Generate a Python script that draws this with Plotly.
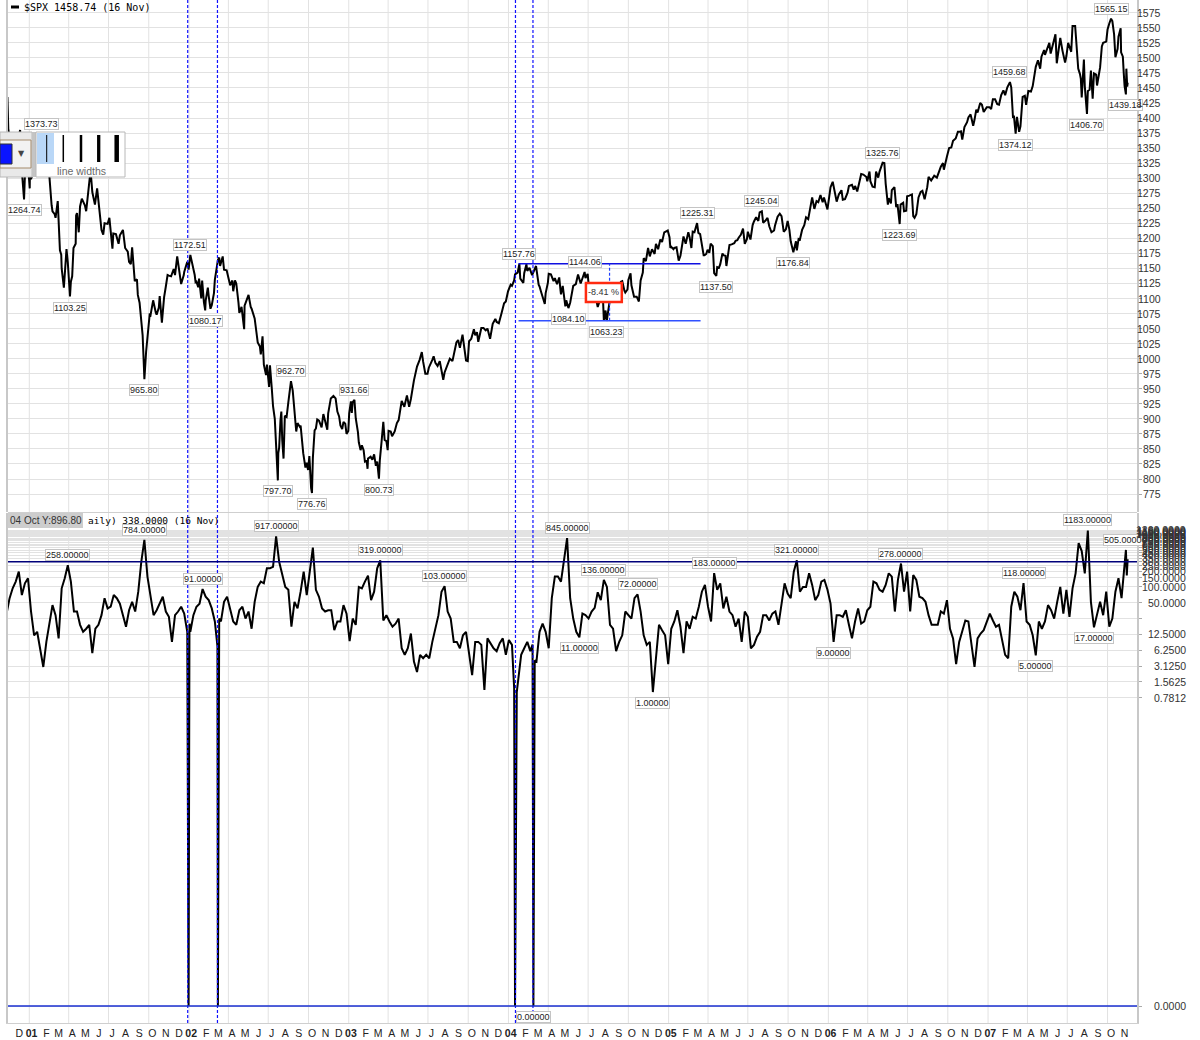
import plotly.graph_objects as go
import pandas as pd
import numpy as np

# ---------------- DATA ----------------
SPX_POINTS = [
    ("2000-11-12", 1435), ("2000-11-14", 1382), ("2000-11-17", 1367), ("2000-11-22", 1322),
    ("2000-11-27", 1348), ("2000-11-30", 1315), ("2000-12-05", 1376), ("2000-12-08", 1369),
    ("2000-12-11", 1380), ("2000-12-15", 1312), ("2000-12-20", 1264.74), ("2000-12-22", 1305),
    ("2000-12-28", 1334),
    ("2001-01-02", 1283), ("2001-01-03", 1347), ("2001-01-05", 1298), ("2001-01-10", 1313),
    ("2001-01-18", 1347), ("2001-01-24", 1364), ("2001-01-26", 1354), ("2001-01-30", 1373.73),
    ("2001-02-02", 1350), ("2001-02-07", 1340), ("2001-02-09", 1315), ("2001-02-13", 1319),
    ("2001-02-16", 1302), ("2001-02-21", 1255), ("2001-02-23", 1245), ("2001-02-28", 1240),
    ("2001-03-02", 1234), ("2001-03-07", 1262), ("2001-03-12", 1180), ("2001-03-15", 1173),
    ("2001-03-16", 1150), ("2001-03-21", 1118), ("2001-03-23", 1139), ("2001-03-27", 1182),
    ("2001-03-30", 1160), ("2001-04-04", 1103.25), ("2001-04-06", 1128), ("2001-04-09", 1137),
    ("2001-04-12", 1184), ("2001-04-17", 1191), ("2001-04-18", 1238), ("2001-04-20", 1242),
    ("2001-04-24", 1210), ("2001-04-27", 1253), ("2001-05-01", 1266), ("2001-05-08", 1255),
    ("2001-05-11", 1245), ("2001-05-16", 1285), ("2001-05-21", 1313), ("2001-05-25", 1277),
    ("2001-05-31", 1256), ("2001-06-05", 1283), ("2001-06-08", 1265), ("2001-06-15", 1214),
    ("2001-06-19", 1206), ("2001-06-22", 1225), ("2001-06-29", 1224), ("2001-07-03", 1234),
    ("2001-07-10", 1183), ("2001-07-12", 1208), ("2001-07-18", 1207), ("2001-07-24", 1191),
    ("2001-07-27", 1205), ("2001-07-31", 1211), ("2001-08-03", 1214), ("2001-08-08", 1184),
    ("2001-08-14", 1178), ("2001-08-17", 1161), ("2001-08-21", 1157), ("2001-08-24", 1185),
    ("2001-08-30", 1129), ("2001-09-04", 1132), ("2001-09-06", 1106), ("2001-09-10", 1093),
    ("2001-09-17", 1039), ("2001-09-20", 985), ("2001-09-21", 965.80), ("2001-09-25", 1012),
    ("2001-09-28", 1041), ("2001-10-03", 1073), ("2001-10-05", 1072), ("2001-10-11", 1097),
    ("2001-10-17", 1077), ("2001-10-19", 1073), ("2001-10-24", 1085), ("2001-10-26", 1104),
    ("2001-10-31", 1060), ("2001-11-05", 1102), ("2001-11-09", 1120), ("2001-11-13", 1139),
    ("2001-11-16", 1138), ("2001-11-21", 1137), ("2001-11-27", 1149), ("2001-11-30", 1139),
    ("2001-12-05", 1170), ("2001-12-07", 1158), ("2001-12-10", 1139), ("2001-12-14", 1124),
    ("2001-12-20", 1139), ("2001-12-21", 1144), ("2001-12-28", 1161), ("2001-12-31", 1148),
    ("2002-01-04", 1172.51), ("2002-01-08", 1160), ("2002-01-10", 1156), ("2002-01-14", 1139),
    ("2002-01-16", 1127), ("2002-01-18", 1128), ("2002-01-22", 1119), ("2002-01-24", 1133),
    ("2002-01-29", 1100), ("2002-01-31", 1130), ("2002-02-04", 1094), ("2002-02-07", 1080.17),
    ("2002-02-08", 1096), ("2002-02-13", 1118), ("2002-02-15", 1104), ("2002-02-19", 1083),
    ("2002-02-22", 1089), ("2002-02-27", 1109), ("2002-03-01", 1131), ("2002-03-05", 1147),
    ("2002-03-08", 1164), ("2002-03-11", 1168), ("2002-03-13", 1154), ("2002-03-19", 1170),
    ("2002-03-22", 1148), ("2002-03-28", 1147), ("2002-04-02", 1129), ("2002-04-05", 1122),
    ("2002-04-10", 1130), ("2002-04-12", 1112), ("2002-04-16", 1130), ("2002-04-19", 1125),
    ("2002-04-24", 1093), ("2002-04-26", 1076), ("2002-05-01", 1086), ("2002-05-07", 1049),
    ("2002-05-08", 1088), ("2002-05-14", 1098), ("2002-05-17", 1106), ("2002-05-22", 1086),
    ("2002-05-24", 1083), ("2002-05-31", 1067), ("2002-06-04", 1040), ("2002-06-07", 1027),
    ("2002-06-12", 1020), ("2002-06-14", 1007), ("2002-06-18", 1037), ("2002-06-21", 990),
    ("2002-06-26", 973), ("2002-06-28", 990), ("2002-07-03", 953), ("2002-07-05", 989),
    ("2002-07-09", 952), ("2002-07-12", 921), ("2002-07-16", 900), ("2002-07-19", 847),
    ("2002-07-23", 797.70), ("2002-07-24", 843), ("2002-07-26", 852), ("2002-07-29", 898),
    ("2002-07-31", 912), ("2002-08-02", 865), ("2002-08-05", 834), ("2002-08-08", 905),
    ("2002-08-12", 903), ("2002-08-16", 928), ("2002-08-22", 962.70), ("2002-08-26", 947),
    ("2002-08-29", 917), ("2002-09-03", 879), ("2002-09-06", 893), ("2002-09-11", 887),
    ("2002-09-13", 889), ("2002-09-19", 843), ("2002-09-24", 819), ("2002-09-27", 827),
    ("2002-09-30", 815), ("2002-10-03", 838), ("2002-10-07", 785), ("2002-10-09", 776.76),
    ("2002-10-11", 835), ("2002-10-15", 881), ("2002-10-18", 884), ("2002-10-21", 899),
    ("2002-10-25", 897), ("2002-10-28", 890), ("2002-10-31", 886), ("2002-11-04", 908),
    ("2002-11-08", 894), ("2002-11-13", 882), ("2002-11-15", 909), ("2002-11-21", 934),
    ("2002-11-27", 938), ("2002-12-02", 934), ("2002-12-06", 912), ("2002-12-10", 904),
    ("2002-12-13", 889), ("2002-12-17", 883), ("2002-12-20", 895), ("2002-12-24", 892),
    ("2002-12-27", 875), ("2002-12-31", 880),
    ("2003-01-02", 909), ("2003-01-06", 929), ("2003-01-08", 910), ("2003-01-10", 928),
    ("2003-01-14", 931.66), ("2003-01-17", 901), ("2003-01-22", 878), ("2003-01-24", 861),
    ("2003-01-28", 848), ("2003-01-31", 856), ("2003-02-04", 848), ("2003-02-07", 829),
    ("2003-02-11", 830), ("2003-02-13", 817), ("2003-02-14", 834), ("2003-02-20", 837),
    ("2003-02-24", 832), ("2003-02-28", 841), ("2003-03-04", 822), ("2003-03-07", 829),
    ("2003-03-11", 800.73), ("2003-03-13", 831), ("2003-03-17", 862), ("2003-03-21", 895),
    ("2003-03-24", 865), ("2003-03-28", 863), ("2003-03-31", 848), ("2003-04-02", 880),
    ("2003-04-07", 879), ("2003-04-10", 871), ("2003-04-16", 879), ("2003-04-21", 893),
    ("2003-04-25", 898), ("2003-04-30", 917), ("2003-05-02", 930), ("2003-05-08", 920),
    ("2003-05-14", 939), ("2003-05-19", 920), ("2003-05-23", 933), ("2003-05-30", 964),
    ("2003-06-06", 987), ("2003-06-12", 998), ("2003-06-17", 1011), ("2003-06-20", 995),
    ("2003-06-25", 975), ("2003-06-30", 975), ("2003-07-03", 985), ("2003-07-11", 998),
    ("2003-07-14", 1004), ("2003-07-18", 993), ("2003-07-23", 988), ("2003-07-28", 996),
    ("2003-08-01", 980), ("2003-08-05", 965), ("2003-08-08", 977), ("2003-08-14", 990),
    ("2003-08-20", 1000), ("2003-08-26", 996), ("2003-08-29", 1008), ("2003-09-04", 1027),
    ("2003-09-08", 1031), ("2003-09-12", 1018), ("2003-09-18", 1040), ("2003-09-22", 1022),
    ("2003-09-26", 997), ("2003-09-30", 996), ("2003-10-03", 1029), ("2003-10-08", 1033),
    ("2003-10-14", 1049), ("2003-10-17", 1039), ("2003-10-21", 1044), ("2003-10-24", 1028),
    ("2003-10-31", 1051), ("2003-11-05", 1051), ("2003-11-10", 1047), ("2003-11-14", 1050),
    ("2003-11-17", 1043), ("2003-11-20", 1033), ("2003-11-26", 1058), ("2003-12-02", 1066),
    ("2003-12-05", 1061), ("2003-12-10", 1059), ("2003-12-16", 1075), ("2003-12-22", 1092),
    ("2003-12-26", 1095), ("2003-12-31", 1112),
    ("2004-01-06", 1123), ("2004-01-09", 1121), ("2004-01-14", 1130), ("2004-01-16", 1140),
    ("2004-01-22", 1143), ("2004-01-26", 1157.76), ("2004-01-28", 1133), ("2004-01-30", 1131),
    ("2004-02-04", 1126), ("2004-02-06", 1142), ("2004-02-11", 1157), ("2004-02-13", 1146),
    ("2004-02-18", 1151), ("2004-02-24", 1139), ("2004-02-27", 1145), ("2004-03-04", 1154),
    ("2004-03-10", 1123), ("2004-03-12", 1120), ("2004-03-16", 1110), ("2004-03-22", 1095),
    ("2004-03-24", 1091), ("2004-03-26", 1109), ("2004-03-31", 1126), ("2004-04-02", 1141),
    ("2004-04-07", 1140), ("2004-04-13", 1129), ("2004-04-16", 1134), ("2004-04-21", 1124),
    ("2004-04-26", 1135), ("2004-04-29", 1113), ("2004-04-30", 1107), ("2004-05-04", 1121),
    ("2004-05-07", 1098), ("2004-05-10", 1087), ("2004-05-12", 1097), ("2004-05-17", 1084.10),
    ("2004-05-21", 1093), ("2004-05-25", 1114), ("2004-05-28", 1121), ("2004-06-03", 1124),
    ("2004-06-08", 1140), ("2004-06-14", 1125), ("2004-06-18", 1135), ("2004-06-23", 1144.06),
    ("2004-06-25", 1134), ("2004-06-30", 1141), ("2004-07-02", 1125), ("2004-07-08", 1112),
    ("2004-07-13", 1115), ("2004-07-16", 1101), ("2004-07-21", 1093), ("2004-07-23", 1086),
    ("2004-07-27", 1095), ("2004-07-30", 1102), ("2004-08-04", 1099), ("2004-08-06", 1064),
    ("2004-08-10", 1080), ("2004-08-12", 1063.23), ("2004-08-13", 1064), ("2004-08-16", 1080),
    ("2004-08-18", 1096), ("2004-08-20", 1099), ("2004-08-25", 1104), ("2004-08-31", 1104),
    ("2004-09-03", 1113), ("2004-09-09", 1118), ("2004-09-14", 1128), ("2004-09-17", 1129),
    ("2004-09-22", 1113), ("2004-09-24", 1110), ("2004-09-29", 1115), ("2004-10-01", 1131),
    ("2004-10-06", 1142), ("2004-10-08", 1122), ("2004-10-14", 1103), ("2004-10-20", 1103),
    ("2004-10-25", 1095), ("2004-10-29", 1130), ("2004-11-03", 1143), ("2004-11-05", 1167),
    ("2004-11-10", 1162), ("2004-11-15", 1184), ("2004-11-19", 1170), ("2004-11-24", 1182),
    ("2004-11-30", 1174), ("2004-12-03", 1191), ("2004-12-08", 1182), ("2004-12-13", 1198),
    ("2004-12-17", 1194), ("2004-12-22", 1210), ("2004-12-30", 1213),
    ("2005-01-03", 1202), ("2005-01-05", 1184), ("2005-01-07", 1186), ("2005-01-12", 1182),
    ("2005-01-14", 1184), ("2005-01-19", 1185), ("2005-01-24", 1163), ("2005-01-28", 1171),
    ("2005-02-01", 1190), ("2005-02-04", 1203), ("2005-02-09", 1191), ("2005-02-15", 1210),
    ("2005-02-18", 1202), ("2005-02-22", 1184), ("2005-02-25", 1211), ("2005-03-01", 1210),
    ("2005-03-07", 1225.31), ("2005-03-10", 1209), ("2005-03-14", 1207), ("2005-03-18", 1190),
    ("2005-03-22", 1172), ("2005-03-24", 1172), ("2005-03-28", 1174), ("2005-03-31", 1181),
    ("2005-04-04", 1176), ("2005-04-07", 1191), ("2005-04-12", 1187), ("2005-04-15", 1142),
    ("2005-04-20", 1137.50), ("2005-04-22", 1152), ("2005-04-26", 1151), ("2005-04-29", 1157),
    ("2005-05-04", 1175), ("2005-05-06", 1172), ("2005-05-11", 1171), ("2005-05-13", 1154),
    ("2005-05-18", 1185), ("2005-05-20", 1189), ("2005-05-25", 1190), ("2005-05-31", 1192),
    ("2005-06-03", 1196), ("2005-06-07", 1197), ("2005-06-10", 1201), ("2005-06-15", 1206),
    ("2005-06-20", 1216), ("2005-06-24", 1191), ("2005-06-29", 1199), ("2005-07-01", 1211),
    ("2005-07-07", 1198), ("2005-07-12", 1222), ("2005-07-15", 1228), ("2005-07-20", 1235),
    ("2005-07-25", 1229), ("2005-07-28", 1243), ("2005-08-02", 1245.04), ("2005-08-05", 1226),
    ("2005-08-10", 1229), ("2005-08-15", 1234), ("2005-08-19", 1220), ("2005-08-24", 1210),
    ("2005-08-30", 1213), ("2005-09-01", 1221), ("2005-09-07", 1236), ("2005-09-12", 1241),
    ("2005-09-16", 1237), ("2005-09-21", 1211), ("2005-09-26", 1215), ("2005-09-30", 1229),
    ("2005-10-04", 1214), ("2005-10-07", 1195), ("2005-10-13", 1176.84), ("2005-10-17", 1190),
    ("2005-10-19", 1195), ("2005-10-21", 1180), ("2005-10-25", 1199), ("2005-10-28", 1198),
    ("2005-11-02", 1214), ("2005-11-07", 1222), ("2005-11-11", 1235), ("2005-11-16", 1232),
    ("2005-11-21", 1254), ("2005-11-25", 1268), ("2005-11-30", 1249), ("2005-12-05", 1262),
    ("2005-12-09", 1260), ("2005-12-14", 1272), ("2005-12-19", 1260), ("2005-12-22", 1268),
    ("2005-12-30", 1248),
    ("2006-01-03", 1268), ("2006-01-06", 1285), ("2006-01-11", 1294), ("2006-01-13", 1286),
    ("2006-01-20", 1261), ("2006-01-25", 1273), ("2006-01-31", 1280), ("2006-02-03", 1264),
    ("2006-02-08", 1265), ("2006-02-14", 1276), ("2006-02-17", 1287), ("2006-02-24", 1289),
    ("2006-02-28", 1281), ("2006-03-03", 1287), ("2006-03-08", 1278), ("2006-03-14", 1297),
    ("2006-03-17", 1307), ("2006-03-22", 1306), ("2006-03-29", 1302), ("2006-03-31", 1295),
    ("2006-04-05", 1311), ("2006-04-07", 1295), ("2006-04-12", 1286), ("2006-04-17", 1285),
    ("2006-04-20", 1311), ("2006-04-25", 1301), ("2006-04-28", 1311), ("2006-05-05", 1325.76),
    ("2006-05-09", 1325), ("2006-05-12", 1291), ("2006-05-17", 1256), ("2006-05-19", 1267),
    ("2006-05-24", 1258), ("2006-05-26", 1280), ("2006-06-01", 1285), ("2006-06-05", 1252),
    ("2006-06-08", 1257), ("2006-06-13", 1223.69), ("2006-06-15", 1256), ("2006-06-21", 1259),
    ("2006-06-23", 1245), ("2006-06-28", 1246), ("2006-06-30", 1270), ("2006-07-05", 1271),
    ("2006-07-11", 1273), ("2006-07-14", 1237), ("2006-07-17", 1234), ("2006-07-21", 1240),
    ("2006-07-26", 1268), ("2006-07-31", 1277), ("2006-08-04", 1279), ("2006-08-09", 1265),
    ("2006-08-15", 1285), ("2006-08-18", 1302), ("2006-08-24", 1296), ("2006-08-31", 1304),
    ("2006-09-06", 1301), ("2006-09-12", 1313), ("2006-09-15", 1319), ("2006-09-20", 1325),
    ("2006-09-22", 1314), ("2006-09-29", 1336), ("2006-10-04", 1350), ("2006-10-09", 1351),
    ("2006-10-13", 1362), ("2006-10-19", 1366), ("2006-10-24", 1377), ("2006-10-27", 1377),
    ("2006-10-31", 1378), ("2006-11-03", 1364), ("2006-11-08", 1385), ("2006-11-14", 1393),
    ("2006-11-17", 1401), ("2006-11-22", 1406), ("2006-11-28", 1387), ("2006-12-01", 1397),
    ("2006-12-05", 1414), ("2006-12-08", 1409), ("2006-12-14", 1425), ("2006-12-18", 1422),
    ("2006-12-22", 1410), ("2006-12-29", 1418),
    ("2007-01-04", 1418), ("2007-01-08", 1415), ("2007-01-12", 1431), ("2007-01-17", 1431),
    ("2007-01-22", 1423), ("2007-01-26", 1422), ("2007-01-31", 1438), ("2007-02-05", 1446),
    ("2007-02-09", 1438), ("2007-02-14", 1451), ("2007-02-20", 1459.68), ("2007-02-23", 1451),
    ("2007-02-27", 1400), ("2007-03-01", 1404), ("2007-03-05", 1374.12), ("2007-03-08", 1402),
    ("2007-03-13", 1377), ("2007-03-16", 1386), ("2007-03-21", 1435), ("2007-03-26", 1437),
    ("2007-03-29", 1422), ("2007-04-03", 1445), ("2007-04-09", 1444), ("2007-04-13", 1453),
    ("2007-04-18", 1472), ("2007-04-20", 1485), ("2007-04-25", 1496), ("2007-04-30", 1482),
    ("2007-05-03", 1502), ("2007-05-09", 1513), ("2007-05-11", 1505), ("2007-05-16", 1514),
    ("2007-05-21", 1525), ("2007-05-24", 1507), ("2007-05-31", 1531), ("2007-06-04", 1539),
    ("2007-06-07", 1491), ("2007-06-11", 1509), ("2007-06-15", 1533), ("2007-06-20", 1512),
    ("2007-06-26", 1492), ("2007-06-29", 1503), ("2007-07-03", 1525), ("2007-07-10", 1510),
    ("2007-07-13", 1553), ("2007-07-19", 1553), ("2007-07-24", 1511), ("2007-07-26", 1482),
    ("2007-07-30", 1473), ("2007-08-01", 1465), ("2007-08-03", 1434), ("2007-08-08", 1497),
    ("2007-08-10", 1453), ("2007-08-15", 1406.70), ("2007-08-17", 1445), ("2007-08-21", 1447),
    ("2007-08-24", 1479), ("2007-08-28", 1432), ("2007-08-31", 1474), ("2007-09-05", 1472),
    ("2007-09-07", 1454), ("2007-09-11", 1471), ("2007-09-14", 1484), ("2007-09-18", 1519),
    ("2007-09-21", 1525), ("2007-09-28", 1527), ("2007-10-01", 1547), ("2007-10-05", 1557),
    ("2007-10-09", 1565.15), ("2007-10-12", 1561), ("2007-10-16", 1539), ("2007-10-19", 1501),
    ("2007-10-24", 1515), ("2007-10-26", 1535), ("2007-10-31", 1549), ("2007-11-01", 1509),
    ("2007-11-05", 1502), ("2007-11-07", 1475), ("2007-11-09", 1453), ("2007-11-12", 1439.18),
    ("2007-11-13", 1482), ("2007-11-15", 1452), ("2007-11-16", 1458.74),
]

# NYSE new highs, weekly readings (Fridays) starting 2000-11-10
NH_START = "2000-11-10"
NH_WEEKLY = [
    31, 61, 94, 126, 195, 70, 117, 146, 34, 12,
    14, 6.8, 3.0, 9, 19, 45, 29, 10.5, 94, 146,
    258, 126, 34, 34, 19, 14, 16, 19, 5.5, 16,
    19, 29, 61, 39, 42, 70, 61, 48, 29, 17.5,
    36, 52, 34, 81, 301, 784, 157, 70, 29, 36,
    48, 65, 34, 27, 9, 29, 34, 42, 31, 14,
    14, 29, 42, 48, 91, 65, 56, 39, 22, 0,
    22, 52, 65, 36, 22, 19, 36, 42, 25, 34,
    16, 52, 100, 126, 117, 226, 226, 240, 917, 300,
    180, 100, 88, 17.5, 52, 39, 81, 195, 70, 181,
    560, 88, 65, 39, 34, 36, 36, 15, 22, 22,
    45, 31, 9.3, 25, 19, 100, 94, 126, 164, 56,
    81, 226, 319, 23, 29, 22, 17.5, 20, 25, 6.8,
    5.1, 6.8, 13, 3.8, 2.4, 5.1, 4.4, 5.1, 4.4, 9,
    17.5, 29, 81, 103, 34, 25, 9, 9, 6.8, 12,
    14, 6, 2.1, 9, 9, 7.9, 1.1, 10.5, 8.5, 6.8,
    6, 8.5, 10.5, 5.1, 9.8, 7.9, 0, 1.6, 5.1, 6.8,
    9, 6, 0, 3.8, 14, 20, 14, 6.8, 61, 157,
    157, 126, 301, 845, 61, 25, 14, 11, 31, 29,
    25, 34, 40, 79, 56, 136, 100, 19, 16, 6,
    9, 12, 34, 29, 25, 61, 72, 34, 12, 7.9,
    9, 1, 5.1, 19, 15, 12, 3.4, 16, 22, 36,
    17.5, 5.5, 22, 16, 27, 25, 42, 81, 109, 42,
    22, 183, 88, 117, 39, 65, 34, 29, 17.5, 25,
    9, 34, 27, 6.8, 7.9, 11.3, 14, 29, 29, 23,
    31, 34, 19, 45, 117, 75, 61, 195, 321, 81,
    100, 100, 181, 109, 56, 70, 126, 136, 88, 48,
    9, 29, 29, 27, 36, 19, 10.5, 22, 39, 20,
    22, 36, 42, 126, 117, 88, 81, 109, 181, 157,
    34, 136, 278, 81, 195, 34, 168, 136, 65, 61,
    52, 29, 19, 19, 19, 34, 31, 56, 16, 10.5,
    3.4, 9, 15, 23, 22, 9, 3.0, 10.5, 13, 15,
    22, 31, 23, 17.5, 19, 10.5, 5.1, 4.4, 42, 81,
    65, 36, 118, 22, 19, 12, 5, 22, 16, 22,
    45, 36, 25, 52, 100, 31, 88, 27, 94, 181,
    680, 480, 181, 1183, 52, 17, 29, 52, 29, 81,
    17.5, 25, 81, 146, 61, 301, 338,
]
NH_EXTRA_DATES = ["2001-12-31", "2002-01-02", "2002-03-07", "2002-03-11",
                  "2004-01-14", "2004-01-20", "2004-02-25", "2004-03-01",
                  "2007-11-12", "2007-11-14"]
NH_EXTRA_VALUES = [0, 20, 7.4, 25, 1.2, 1.0, 8, 4, 505, 165]
ZERO_FLOOR = 1.07e-6   # where the chart draws a zero reading on its log scale
NH_REF_LINE = 300

PRICE_TICKS = list(range(775, 1576, 25))
NH_TICKS = [1200, 1150, 1100, 1050, 1000, 950, 900, 850, 800, 750, 700, 650, 600, 550,
            500, 450, 400, 350, 300, 250, 200, 150, 100, 50, 12.5, 6.25, 3.125, 1.5625, 0.78125]
NH_GRID_ONLY = [25]

PRICE_LABELS = [  # text, date, value, above?
    ("1373.73", "2001-01-30", 1373.73, True), ("1264.74", "2000-12-20", 1264.74, False),
    ("1103.25", "2001-04-04", 1103.25, False), ("965.80", "2001-09-21", 965.80, False),
    ("1172.51", "2002-01-04", 1172.51, True), ("1080.17", "2002-02-07", 1080.17, False),
    ("962.70", "2002-08-22", 962.70, True), ("797.70", "2002-07-23", 797.70, False),
    ("776.76", "2002-10-09", 776.76, False), ("931.66", "2003-01-14", 931.66, True),
    ("800.73", "2003-03-11", 800.73, False), ("1157.76", "2004-01-26", 1157.76, True),
    ("1144.06", "2004-06-23", 1144.06, True), ("1084.10", "2004-05-17", 1084.10, False),
    ("1063.23", "2004-08-12", 1063.23, False), ("1225.31", "2005-03-07", 1225.31, True),
    ("1137.50", "2005-04-20", 1137.50, False), ("1245.04", "2005-08-02", 1245.04, True),
    ("1176.84", "2005-10-13", 1176.84, False), ("1325.76", "2006-05-05", 1325.76, True),
    ("1223.69", "2006-06-13", 1223.69, False), ("1459.68", "2007-02-20", 1459.68, True),
    ("1374.12", "2007-03-05", 1374.12, False), ("1406.70", "2007-08-15", 1406.70, False),
    ("1565.15", "2007-10-09", 1565.15, True), ("1439.18", "2007-11-12", 1439.18, False),
]
NH_LABELS = [
    ("258.00000", "2001-03-30", 258, True), ("784.00000", "2001-09-21", 784, True),
    ("91.00000", "2002-02-01", 91, True), ("917.00000", "2002-07-19", 917, True),
    ("319.00000", "2003-03-14", 319, True), ("103.00000", "2003-08-08", 103, True),
    ("845.00000", "2004-05-14", 845, True), ("11.00000", "2004-06-11", 11, False),
    ("136.00000", "2004-08-06", 136, True), ("72.00000", "2004-10-22", 72, True),
    ("1.00000", "2004-11-26", 1, False), ("183.00000", "2005-04-15", 183, True),
    ("321.00000", "2005-10-21", 321, True), ("9.00000", "2006-01-13", 9, False),
    ("278.00000", "2006-06-16", 278, True), ("118.00000", "2007-03-23", 118, True),
    ("5.00000", "2007-04-20", 5, False), ("1183.00000", "2007-08-17", 1183, True),
    ("505.00000", "2007-11-12", 505, True), ("17.00000", "2007-08-31", 17, False),
    ("0.00000", "2004-02-27", ZERO_FLOOR, False),
]
MARK_DATES = ["2001-12-29", "2002-03-07", "2004-01-17", "2004-02-26"]
QUARTER_STARTS = [f"{y}-{m:02d}-01" for y in range(2001, 2008) for m in (1, 4, 7, 10)]
MONTH_LETTERS = ["J", "F", "M", "A", "M", "J", "J", "A", "S", "O", "N", "D"]

# ---------------- GEOMETRY ----------------
W, H = 1200, 1040
ML, MR, MT, MB = 8, 63, 0, 17
PW = W - ML - MR
PH = H - MT - MB


def px(xp):
    return (xp - ML) / PW


def py(yp):
    return (MT + PH - yp) / PH


X_RANGE = ["2000-11-13 08:00", "2007-12-07 08:00"]
PRICE_RANGE = [745.2, 1596.1]
NH_RANGE = [np.log10(5.09e-7), np.log10(2542)]

FONT = "Liberation Sans, Arial, sans-serif"
MONO = "DejaVu Sans Mono, monospace"

# ---------------- TRACES ----------------
spx_dates = [d for d, _ in SPX_POINTS]
spx_vals = [v for _, v in SPX_POINTS]

nh = pd.DataFrame({"d": pd.date_range(NH_START, periods=len(NH_WEEKLY), freq="7D"),
                   "v": NH_WEEKLY})
nh = pd.concat([nh, pd.DataFrame({"d": pd.to_datetime(NH_EXTRA_DATES), "v": NH_EXTRA_VALUES})])
nh = nh.sort_values("d")
nh_plot = np.where(nh["v"] > 0, nh["v"], ZERO_FLOOR)

fig = go.Figure()
fig.add_trace(go.Scatter(x=spx_dates, y=spx_vals, xaxis="x2", yaxis="y2", mode="lines",
                         line=dict(color="black", width=2), hoverinfo="skip"))
fig.add_trace(go.Scatter(x=nh["d"], y=nh_plot, xaxis="x", yaxis="y", mode="lines",
                         line=dict(color="black", width=2), hoverinfo="skip"))

# ---------------- X TICKS ----------------
months = pd.date_range("2000-12-01", "2007-11-01", freq="MS")
tickvals, ticktext = [], []
for m in months:
    if m.month == 1:
        tickvals.append(m + pd.Timedelta(days=5))
        ticktext.append(f"<b>{m.year % 100:02d}</b>")
    else:
        tickvals.append(m + pd.Timedelta(days=8))
        ticktext.append(MONTH_LETTERS[m.month - 1])

shapes = []
annotations = []

# quarter gridlines
for q in QUARTER_STARTS:
    shapes.append(dict(type="line", xref="x", yref="paper", x0=q, x1=q, y0=0, y1=1,
                       line=dict(color="#e2e2e2", width=1), layer="below"))

# marker dashed verticals
for d in MARK_DATES:
    shapes.append(dict(type="line", xref="x", yref="paper", x0=d, x1=d, y0=0, y1=1,
                       line=dict(color="#1010ff", width=1.2, dash="3px,2px"), layer="above"))

# panel separator
shapes.append(dict(type="line", xref="paper", yref="paper", x0=0, x1=1, y0=py(512.5), y1=py(512.5),
                   line=dict(color="#cfcfcf", width=1)))

# bottom panel reference lines
shapes.append(dict(type="line", xref="paper", yref="y", x0=0, x1=1, y0=NH_REF_LINE, y1=NH_REF_LINE,
                   line=dict(color="#00007a", width=1.5)))
shapes.append(dict(type="line", xref="paper", yref="y", x0=0, x1=1, y0=ZERO_FLOOR, y1=ZERO_FLOOR,
                   line=dict(color="#1a2fd0", width=1.5)))

# measuring tool in top panel
shapes.append(dict(type="line", xref="x2", yref="y2", x0="2004-01-24", x1="2005-03-15",
                   y0=1157.76, y1=1157.76, line=dict(color="#1010e0", width=1.5)))
shapes.append(dict(type="line", xref="x2", yref="y2", x0="2004-01-24", x1="2005-03-15",
                   y0=1063.23, y1=1063.23, line=dict(color="#3050ff", width=1.5)))
shapes.append(dict(type="line", xref="x2", yref="y2", x0="2004-08-19", x1="2004-08-19",
                   y0=1063.23, y1=1157.76, line=dict(color="#2040ff", width=1.2, dash="3px,2px")))
shapes.append(dict(type="rect", xref="x2", yref="y2", x0="2004-06-26", x1="2004-09-16",
                   y0=1094.3, y1=1125.8, line=dict(color="#ff2a10", width=2.5),
                   fillcolor="white", layer="above"))
annotations.append(dict(x="2004-08-06", y=1110, xref="x2", yref="y2", text="-8.41 %",
                        showarrow=False, xanchor="center", yanchor="middle",
                        font=dict(family=FONT, size=9, color="#333")))


# value labels
def value_label(text, x, y, above, xref, yref):
    return dict(x=x, y=y, xref=xref, yref=yref, text=text, showarrow=False,
                xanchor="center", yanchor="bottom" if above else "top",
                yshift=4 if above else -5,
                font=dict(family=FONT, size=9, color="#222"),
                bgcolor="white", bordercolor="#c4c4c4", borderwidth=1, borderpad=0)


for t, d, v, up in PRICE_LABELS:
    annotations.append(value_label(t, d, v, up, "x2", "y2"))
for t, d, v, up in NH_LABELS:
    annotations.append(value_label(t, d, np.log10(v), up, "x", "y"))

# right-aligned axis labels
for p in PRICE_TICKS:
    annotations.append(dict(x=px(1163), y=p, xref="paper", yref="y2", text=str(p),
                            showarrow=False, xanchor="right", yanchor="middle",
                            font=dict(family=FONT, size=10.5, color="#333")))
for v in NH_TICKS + [ZERO_FLOOR]:
    txt = "0.0000" if v == ZERO_FLOOR else f"{v:.4f}"
    annotations.append(dict(x=px(1188), y=np.log10(v), xref="paper", yref="y", text=txt,
                            showarrow=False, xanchor="right", yanchor="middle",
                            font=dict(family=FONT, size=10.5, color="#333")))

# legends
shapes.append(dict(type="line", xref="paper", yref="paper", x0=px(11), x1=px(19), y0=py(7), y1=py(7),
                   line=dict(color="black", width=3)))
annotations.append(dict(x=px(22), y=py(7.5), xref="paper", yref="paper",
                        text="$SPX 1458.74 (16 Nov)", showarrow=False, xanchor="left",
                        yanchor="middle", font=dict(family=MONO, size=10, color="black")))
shapes.append(dict(type="rect", xref="paper", yref="paper", x0=px(8), x1=px(83), y0=py(528), y1=py(513),
                   fillcolor="#cdcdcd", line=dict(width=0), layer="above"))
annotations.append(dict(x=px(45.5), y=py(520.5), xref="paper", yref="paper",
                        text="04 Oct Y:896.80", showarrow=False, xanchor="center", yanchor="middle",
                        font=dict(family=FONT, size=10, color="#333")))
annotations.append(dict(x=px(86), y=py(520.5), xref="paper", yref="paper",
                        text="aily) 338.0000 (16 Nov)", showarrow=False, xanchor="left",
                        yanchor="middle", font=dict(family=MONO, size=9.5, color="black")))


# line-width popup widget
def prect(x0, y0, x1, y1, fill, line_color=None, lw=1):
    return dict(type="rect", xref="paper", yref="paper", x0=px(x0), x1=px(x1), y0=py(y1), y1=py(y0),
                fillcolor=fill, line=dict(color=line_color or fill, width=lw if line_color else 0),
                layer="above")


shapes.append(prect(0, 132, 32, 177, "#e9e9e9", "#b8b8b8"))
shapes.append(prect(0, 140, 31, 168, "#f2f2f2", "#a48a6a"))
shapes.append(prect(0, 144, 12, 164, "#0a14ff", "#303030"))
shapes.append(prect(32, 132, 36, 177, "#c4c4c4"))
shapes.append(prect(36, 132, 125, 177, "white", "#b8b8b8"))
shapes.append(prect(37, 133, 54, 164, "#b9d7f7"))
for bx, bw in [(46.7, 1), (63.3, 1.5), (81, 2.5), (98.7, 3.3), (116.7, 4.5)]:
    shapes.append(dict(type="line", xref="paper", yref="paper", x0=px(bx), x1=px(bx),
                       y0=py(162), y1=py(135), line=dict(color="black", width=bw), layer="above"))
annotations.append(dict(x=px(21), y=py(154), xref="paper", yref="paper", text="▼",
                        showarrow=False, xanchor="center", yanchor="middle",
                        font=dict(family="DejaVu Sans", size=8, color="#444")))
annotations.append(dict(x=px(81), y=py(171.5), xref="paper", yref="paper", text="line widths",
                        showarrow=False, xanchor="center", yanchor="middle",
                        font=dict(family=FONT, size=10.5, color="#6a6a6a")))

# ---------------- LAYOUT ----------------
fig.update_layout(
    width=W, height=H, margin=dict(l=ML, r=MR, t=MT, b=MB, pad=0),
    paper_bgcolor="white", plot_bgcolor="white", showlegend=False,
    shapes=shapes, annotations=annotations,
    xaxis=dict(domain=[0, 1], anchor="y", type="date", range=X_RANGE, showgrid=False,
               zeroline=False, showline=True, linecolor="#cfcfcf", linewidth=1, mirror=False,
               tickmode="array", tickvals=tickvals, ticktext=ticktext, ticks="",
               tickfont=dict(family=FONT, size=10.5, color="#222"), tickangle=0),
    xaxis2=dict(domain=[0, 1], anchor="y2", type="date", matches="x", range=X_RANGE,
                showgrid=False, zeroline=False, showticklabels=False, showline=False),
    yaxis2=dict(domain=[py(512), 1], anchor="x2", range=PRICE_RANGE, side="right",
                tickmode="array", tickvals=PRICE_TICKS, showticklabels=False,
                gridcolor="#e2e2e2", gridwidth=1, zeroline=False,
                showline=True, linecolor="#c8c8c8", linewidth=2, mirror=True,
                ticks="outside", ticklen=3, tickcolor="#aaaaaa"),
    yaxis=dict(domain=[0, py(513)], anchor="x", type="log", range=NH_RANGE, side="right",
               tickmode="array", tickvals=NH_TICKS + NH_GRID_ONLY + [ZERO_FLOOR],
               showticklabels=False, gridcolor="#e2e2e2", gridwidth=1, zeroline=False,
               showline=True, linecolor="#c8c8c8", linewidth=2, mirror=True,
               ticks="outside", ticklen=3, tickcolor="#aaaaaa"),
)

fig.write_html("out.html", config={"displayModeBar": False},
               post_script="document.body.style.margin='0px';")
